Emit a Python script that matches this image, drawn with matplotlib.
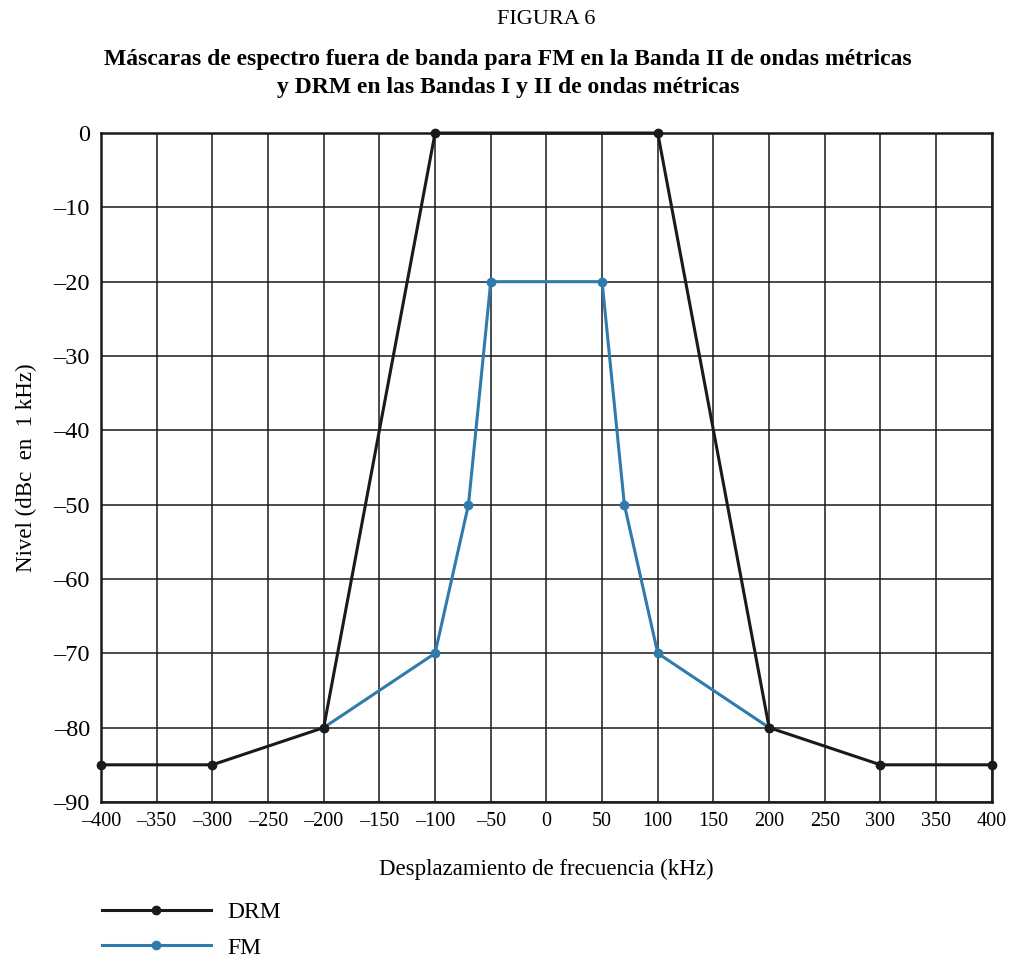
import matplotlib
matplotlib.use("Agg")
import matplotlib.pyplot as plt

plt.rcParams['font.family'] = ['Liberation Serif', 'DejaVu Serif']

drm_x = [-400, -300, -200, -100, 100, 200, 300, 400]
drm_y = [-85, -85, -80, 0, 0, -80, -85, -85]
fm_x = [-200, -100, -70, -50, 50, 70, 100, 200]
fm_y = [-80, -70, -50, -20, -20, -50, -70, -80]
xticks = list(range(-400, 401, 50))
yticks = list(range(-90, 1, 10))


def lab(v):
    return f"\u2013{abs(v)}" if v < 0 else str(v)


fig = plt.figure(figsize=(10.1, 9.57), dpi=100)
ax = fig.add_axes([0.100, 0.162, 0.882, 0.699])

ax.plot(drm_x, drm_y, color='#1a1a1a', lw=2.2, marker='o', ms=6, label='DRM', zorder=4, clip_on=False)
ax.plot(fm_x, fm_y, color='#2f7bab', lw=2.2, marker='o', ms=6, label='FM', zorder=3, clip_on=False)

ax.set_xlim(-400, 400)
ax.set_ylim(-90, 0)
ax.set_xticks(xticks)
ax.set_yticks(yticks)
ax.set_xticklabels([lab(v) for v in xticks], fontsize=14.5)
ax.set_yticklabels([lab(v) for v in yticks], fontsize=17.5)
ax.tick_params(length=0)
ax.tick_params(axis='y', pad=8)
ax.tick_params(axis='x', pad=7)
ax.grid(True, color='#1a1a1a', lw=1.1)
ax.set_axisbelow(True)
for s in ax.spines.values():
    s.set_linewidth(1.8)
    s.set_color('#1a1a1a')

ax.set_xlabel('Desplazamiento de frecuencia (kHz)', fontsize=16.5, labelpad=20)
ax.set_ylabel('Nivel (dBc  en  1 kHz)', fontsize=16.5, labelpad=12)

fig.text(0.541, 0.980, 'FIGURA 6', ha='center', va='center', fontsize=16)
fig.text(0.503, 0.923, 'Máscaras de espectro fuera de banda para FM en la Banda II de ondas métricas\ny DRM en las Bandas I y II de ondas métricas',
         ha='center', va='center', fontsize=17, fontweight='bold', linespacing=1.4)

leg = fig.legend(loc='upper left', bbox_to_anchor=(0.101, 0.058), frameon=False,
                 fontsize=17, handlelength=4.6, handletextpad=0.7, labelspacing=0.6,
                 borderaxespad=0, borderpad=0)

fig.savefig('out.png', dpi=100, facecolor='white')
